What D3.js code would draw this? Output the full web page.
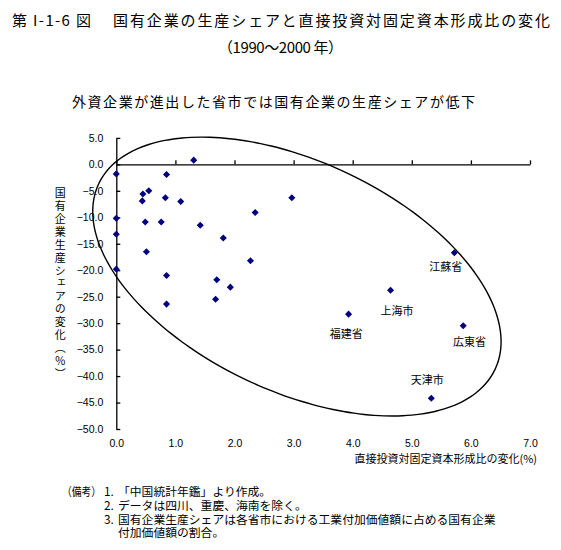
<!DOCTYPE html>
<html>
<head>
<meta charset="utf-8">
<script src="https://cdn.jsdelivr.net/npm/d3@7"></script>
<style>
  body { margin: 0; background: #fff; }
  svg { display: block; }
  .jp { font-family: "Noto Sans CJK JP", sans-serif; fill: #000; }
  .tick text { font-family: "Liberation Sans", Arial, sans-serif; font-size: 10.5px; fill: #000; }
</style>
</head>
<body>
<svg id="chart" width="561" height="550"></svg>
<script>
// provinces without labels: [fdi ratio %, change of SOE share %]
const points = [
  [0.00, -1.8], [1.31, 0.8], [0.85, -1.9], [0.45, -5.6], [0.55, -5.0],
  [0.44, -6.9], [0.83, -6.3], [1.09, -7.0], [2.97, -6.3], [0.00, -10.2],
  [0.49, -10.9], [0.76, -10.9], [2.35, -9.1], [1.42, -11.5], [0.00, -13.2],
  [1.81, -13.9], [0.51, -16.5], [2.27, -18.2], [0.00, -19.8], [0.85, -21.0],
  [1.70, -21.8], [1.93, -23.2], [1.68, -25.5], [0.85, -26.4],
]
const labelNames = ['江蘇省', '上海市', '福建省', '広東省', '天津市']
const labelX = [5.72, 4.64, 3.93, 5.87, 5.33]
const labelY = [-16.7, -23.8, -28.3, -30.5, -44.2]
const xTicks = [0, 1, 2, 3, 4, 5, 6, 7]
const yTicks = [5, 0, -5, -10, -15, -20, -25, -30, -35, -40, -45, -50]
// ellipse drawn around the points, in data units: centre and two half-axes
const ellipseCenter = [3.056, -21.2]
const ellipseU = [3.355, -17.49]
const ellipseV = [-0.823, -19.7]

const titleMain = '国有企業の生産シェアと直接投資対固定資本形成比の変化'
const notes = [
  ['（備考）', '1.', '「中国統計年鑑」より作成。'],
  ['', '2.', 'データは四川、重慶、海南を除く。'],
  ['', '3.', '国有企業生産シェアは各省市における工業付加価値額に占める国有企業'],
  ['', '', '付加価値額の割合。'],
]

const svg = d3.select('#chart')

const x = d3.scaleLinear().domain([0, 7]).range([116.3, 530])
const y = d3.scaleLinear().domain([-50, 5]).range([429, 137.9])

// titles
svg.append('text').attr('class', 'jp')
  .attr('x', 12).attr('y', 19).attr('dominant-baseline', 'central')
  .attr('font-size', 15).attr('textLength', 79).attr('lengthAdjust', 'spacing')
  .text('第 I-1-6 図')
svg.append('text').attr('class', 'jp')
  .attr('x', 113).attr('y', 19).attr('dominant-baseline', 'central')
  .attr('font-size', 15).attr('textLength', 437).attr('lengthAdjust', 'spacing')
  .text(titleMain)
svg.append('text').attr('class', 'jp')
  .attr('x', 218).attr('y', 46).attr('dominant-baseline', 'central')
  .attr('font-size', 15).attr('textLength', 125).attr('lengthAdjust', 'spacing')
  .text('（1990～2000 年）')
svg.append('text').attr('class', 'jp')
  .attr('x', 72).attr('y', 101).attr('dominant-baseline', 'central')
  .attr('font-size', 14).attr('textLength', 403).attr('lengthAdjust', 'spacing')
  .text('外資企業が進出した省市では国有企業の生産シェアが低下')

// y axis, ticks pointing inward
const yAxis = d3.axisLeft(y).tickValues(yTicks).tickFormat(d3.format('.1f'))
  .tickSizeInner(-4).tickSizeOuter(0).tickPadding(13)
svg.append('g').attr('transform', `translate(${x(0)},0)`).call(yAxis)

// x axis line through 0, ticks upward, labels at the bottom
const xAxis = d3.axisBottom(x).tickValues(xTicks).tickFormat('')
  .tickSizeInner(-4).tickSizeOuter(0)
svg.append('g').attr('transform', `translate(0,${y(0)})`).call(xAxis)
const xLabels = d3.axisBottom(x).tickValues(xTicks).tickFormat(d3.format('.1f'))
  .tickSize(0).tickPadding(11)
const xl = svg.append('g').attr('transform', `translate(0,${y(-50)})`).call(xLabels)
xl.select('.domain').remove()

svg.selectAll('.domain, .tick line').attr('stroke', '#000').attr('stroke-width', 1.3)

// axis titles
svg.append('text').attr('class', 'jp')
  .attr('x', 537).attr('y', 458).attr('dominant-baseline', 'central')
  .attr('text-anchor', 'end').attr('font-size', 11)
  .text('直接投資対固定資本形成比の変化(%)')

svg.append('text').attr('class', 'jp')
  .attr('x', 60.3).attr('y', 187.5)
  .attr('font-size', 11)
  .style('writing-mode', 'vertical-rl')
  .style('letter-spacing', '1.9px')
  .text('国有企業生産シェアの変化（％）')

// ellipse
const ellipsePts = d3.range(0, 361, 3).map((deg) => {
  const t = (deg * Math.PI) / 180
  return [
    ellipseCenter[0] + Math.cos(t) * ellipseU[0] + Math.sin(t) * ellipseV[0],
    ellipseCenter[1] + Math.cos(t) * ellipseU[1] + Math.sin(t) * ellipseV[1],
  ]
})
svg.append('path')
  .attr('d', d3.line().x((d) => x(d[0])).y((d) => y(d[1])).curve(d3.curveCardinalClosed)(ellipsePts))
  .attr('fill', 'none').attr('stroke', '#000').attr('stroke-width', 1.4)

// markers
const labelled = labelNames.map((name, i) => [labelX[i], labelY[i], name])
const diamond = d3.symbol(d3.symbolSquare, 25)
svg.append('g').selectAll('path').data(points.concat(labelled)).join('path')
  .attr('d', diamond)
  .attr('transform', (d) => `translate(${x(d[0])},${y(d[1])}) rotate(45)`)
  .attr('fill', '#000080')

// point labels, offsets in px from the marker
const labelOffsets = [[-8.6, 13.3], [6.4, 19.7], [-2.3, 18.7], [6.3, 15], [-4, -19]]
svg.append('g').selectAll('text').data(labelled).join('text')
  .attr('class', 'jp')
  .attr('font-size', 11)
  .attr('text-anchor', 'middle')
  .attr('dominant-baseline', 'central')
  .attr('x', (d, i) => x(d[0]) + labelOffsets[i][0])
  .attr('y', (d, i) => y(d[1]) + labelOffsets[i][1])
  .text((d) => d[2])

// notes, one text block
const noteY = [492, 506, 519.5, 533]
const noteX = [62, 104, 118]
const nt = svg.append('text').attr('class', 'jp').attr('font-size', 11.8)
notes.forEach((row, i) => {
  row.forEach((s, j) => {
    if (!s) return
    const ts = nt.append('tspan').attr('x', noteX[j]).attr('y', noteY[i] + 4).text(s)
    if (j === 0) ts.attr('textLength', 39).attr('lengthAdjust', 'spacingAndGlyphs')
  })
})
</script>
</body>
</html>
